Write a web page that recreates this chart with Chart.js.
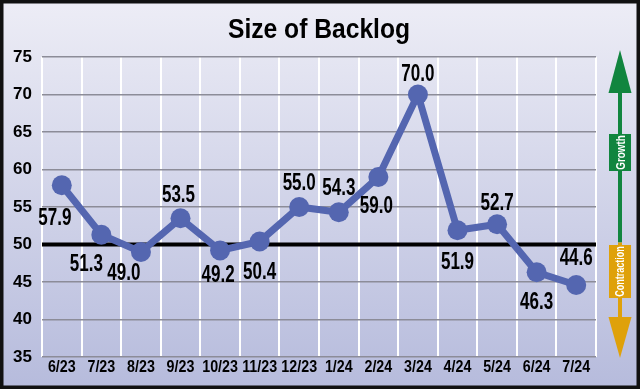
<!DOCTYPE html>
<html>
<head>
<meta charset="utf-8">
<script src="https://cdn.jsdelivr.net/npm/chart.js@4"></script>
<style>
  body { margin: 0; background: #fff; }
  canvas { display: block; }
</style>
</head>
<body>
<canvas id="myChart" width="640" height="389"></canvas>
<script>
'use strict';

let months = ['6/23','7/23','8/23','9/23','10/23','11/23','12/23','1/24','2/24','3/24','4/24','5/24','6/24','7/24'];
let backlog = [57.9, 51.3, 49.0, 53.5, 49.2, 50.4, 55.0, 54.3, 59.0, 70.0, 51.9, 52.7, 46.3, 44.6];
let yTicks = [35, 40, 45, 50, 55, 60, 65, 70, 75];
let chartTitle = 'Size of Backlog';

// where each value label sits relative to its point
let labelOffsets = [[-7,33],[-15,30],[-17,22],[-2,-23],[-2,25],[0,31],[0,-23],[0,-24],[-2,30],[0,-20],[0,32],[0,-21],[0,30],[0,-26]];

let sans = "'Liberation Sans', Arial, sans-serif";

// text squeezed sideways, to look like a condensed face
function narrowText(ctx, text, x, y, size, sx) {
  ctx.save();
  ctx.font = 'bold ' + size + 'px ' + sans;
  ctx.translate(x, y);
  ctx.scale(sx, 1);
  ctx.fillText(text, 0, 0);
  ctx.restore();
}

let backPlugin = {
  id: 'back',
  beforeDraw(chart) {
    let ctx = chart.ctx;
    let w = chart.width, h = chart.height;
    let g = ctx.createLinearGradient(0, 0, 0, h);
    g.addColorStop(0, '#ededf6');
    g.addColorStop(1, '#b6bbdc');
    ctx.save();
    ctx.fillStyle = g;
    ctx.fillRect(0, 0, w, h);
    ctx.strokeStyle = '#111';
    ctx.lineWidth = 4;
    ctx.strokeRect(1.5, 1.5, w - 3, h - 3);
    ctx.fillStyle = '#000';
    ctx.textAlign = 'center';
    ctx.textBaseline = 'alphabetic';
    narrowText(ctx, chartTitle, 319, 38, 28, 0.88);
    ctx.restore();
  },
  beforeDatasetsDraw(chart) {
    let ctx = chart.ctx;
    let a = chart.chartArea;
    let xs = chart.scales.x, ys = chart.scales.y;
    let y50 = ys.getPixelForValue(50);
    ctx.save();
    ctx.strokeStyle = '#000';
    ctx.lineWidth = 4;
    ctx.beginPath();
    ctx.moveTo(a.left, y50);
    ctx.lineTo(a.right, y50);
    ctx.stroke();

    // tick labels
    ctx.fillStyle = '#000';
    ctx.textBaseline = 'middle';
    ctx.textAlign = 'center';
    months.forEach((m, i) => {
      narrowText(ctx, m, xs.getPixelForTick(i), a.bottom + 10, 17, 0.84);
    });
    ctx.textAlign = 'right';
    ctx.font = 'bold 17px ' + sans;
    yTicks.forEach(v => {
      ctx.fillText(String(v), a.left - 10, ys.getPixelForValue(v));
    });

    // growth / contraction arrows
    let ax = 620;
    let green = '#11853f', orange = '#dfa10a';
    ctx.lineWidth = 4;
    ctx.strokeStyle = green;
    ctx.beginPath(); ctx.moveTo(ax, a.top + 30); ctx.lineTo(ax, y50 - 2); ctx.stroke();
    ctx.fillStyle = green;
    ctx.beginPath(); ctx.moveTo(ax, a.top - 7); ctx.lineTo(ax + 11.5, a.top + 36); ctx.lineTo(ax - 11.5, a.top + 36); ctx.closePath(); ctx.fill();
    ctx.fillRect(609, 134, 22, 37);

    ctx.strokeStyle = orange;
    ctx.beginPath(); ctx.moveTo(ax, y50 - 2); ctx.lineTo(ax, a.bottom - 30); ctx.stroke();
    ctx.fillStyle = orange;
    ctx.beginPath(); ctx.moveTo(ax, a.bottom + 1); ctx.lineTo(ax + 11.5, a.bottom - 40); ctx.lineTo(ax - 11.5, a.bottom - 40); ctx.closePath(); ctx.fill();
    ctx.fillRect(609, 245, 22, 53);

    ctx.fillStyle = '#fff';
    ctx.textAlign = 'center';
    ctx.textBaseline = 'middle';
    ctx.save();
    ctx.translate(621, 152.5);
    ctx.rotate(-Math.PI / 2);
    narrowText(ctx, 'Growth', 0, 0, 13, 0.76);
    ctx.restore();
    ctx.save();
    ctx.translate(621, 271.5);
    ctx.rotate(-Math.PI / 2);
    narrowText(ctx, 'Contraction', 0, 0, 12.5, 0.72);
    ctx.restore();
    ctx.restore();
  },
  afterDatasetsDraw(chart) {
    let ctx = chart.ctx;
    let meta = chart.getDatasetMeta(0);
    ctx.save();
    ctx.fillStyle = '#000';
    ctx.textAlign = 'center';
    ctx.textBaseline = 'middle';
    meta.data.forEach((pt, i) => {
      let off = labelOffsets[i];
      narrowText(ctx, backlog[i].toFixed(1), pt.x + off[0], pt.y + off[1], 23, 0.74);
    });
    ctx.restore();
  }
};

let ctx = document.getElementById('myChart').getContext('2d');
let myChart = new Chart(ctx, {
  type: 'line',
  data: {
    labels: months,
    datasets: [{
      label: chartTitle,
      data: backlog,
      borderColor: '#5466b0',
      backgroundColor: '#5466b0',
      borderWidth: 7,
      pointRadius: 10,
      pointHoverRadius: 10,
      pointBorderWidth: 0,
      tension: 0
    }]
  },
  options: {
    responsive: false,
    animation: false,
    events: [],
    layout: { padding: { top: 57, right: 44, bottom: 0, left: 0 } },
    plugins: {
      legend: { display: false },
      title: { display: false },
      tooltip: { enabled: false }
    },
    scales: {
      x: {
        offset: true,
        border: { display: false },
        grid: { offset: true, color: '#ffffff', lineWidth: 2, drawTicks: false },
        ticks: { display: false, autoSkip: false },
        afterFit(scale) { scale.height = 32; }
      },
      y: {
        min: 35,
        max: 75,
        border: { display: false },
        afterBuildTicks(scale) { scale.ticks = yTicks.map(v => ({ value: v })); },
        grid: { color: '#8c8c98', lineWidth: 1.5, drawTicks: false },
        ticks: { display: false },
        afterFit(scale) { scale.width = 42; }
      }
    }
  },
  plugins: [backPlugin]
});
</script>
</body>
</html>
